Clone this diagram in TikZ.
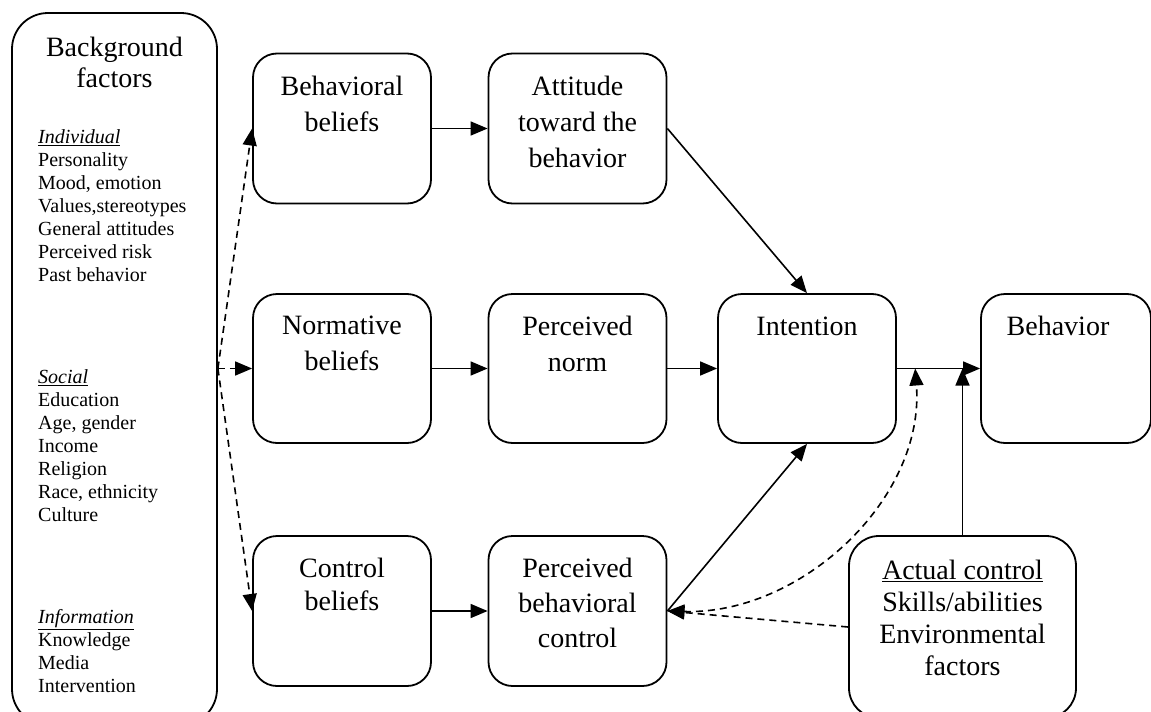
\documentclass[tikz,border=0pt]{standalone}
\usepackage{fontspec}
\setmainfont{Liberation Serif}
\usetikzlibrary{arrows.meta,calc}

\begin{document}
\begin{tikzpicture}[x=1pt,y=-1pt,
  box/.style={draw, line width=1.8pt, rounded corners=24pt,
    minimum width=178pt, minimum height=150pt, inner sep=0pt},
  big/.style={font=\fontsize{28}{36}\selectfont, align=center,
    inner sep=0pt, anchor=north},
  small/.style={font=\fontsize{20}{23}\selectfont, align=left,
    inner sep=0pt, anchor=north west},
  link/.style={line width=1.6pt, -{Triangle[length=17pt,width=14pt]}},
  dlink/.style={link, dash pattern=on 7pt off 5pt},
]
\useasboundingbox (0,0) rectangle (1151,712);

% background factors column
\node[box, minimum width=205pt, minimum height=712pt, rounded corners=36pt]
  (bg) at (114.5,369) {};
\node[big, font=\fontsize{28}{31}\selectfont] (bgtitle)
  at ([yshift=-25pt]bg.north) {Background\\factors};
\node[small] (ind) at (38,129.5) {\underline{\textit{Individual}}\\Personality\\Mood, emotion\\Values,stereotypes\\General attitudes\\Perceived risk\\Past behavior};
\node[small] (soc) at (38,369.5) {\underline{\textit{Social}}\\Education\\Age, gender\\Income\\Religion\\Race, ethnicity\\Culture};
\node[small] (inf) at (38,609.5) {\underline{\textit{Information}}\\Knowledge\\Media\\Intervention};

% belief boxes and their direct outcomes
\node[box] (bb)  at (342,128.5) {};
\node[box] (att) at (577.5,128.5) {};
\node[box, minimum height=149pt] (nb)  at (342,368.5) {};
\node[box, minimum height=149pt] (pn)  at (577.5,368.5) {};
\node[box] (cb)  at (342,611) {};
\node[box] (pbc) at (577.5,611) {};
\node[box, minimum height=149pt] (int) at (807,368.5) {};
\node[box, minimum width=170pt, minimum height=149pt] (beh) at (1066,368.5) {};
\node[box, minimum width=227pt, minimum height=182pt, rounded corners=30pt]
  (ac) at (962.5,627) {};

\node[big] (tbb)  at ([yshift=-23pt]bb.north)  {Behavioral\\beliefs};
\node[big] (tatt) at ([yshift=-23pt]att.north) {Attitude\\toward the\\behavior};
\node[big] (tnb)  at ([yshift=-23pt]nb.north)  {Normative\\beliefs};
\node[big] (tpn)  at ([yshift=-23pt]pn.north)  {Perceived\\norm};
\node[big, font=\fontsize{28}{33}\selectfont] (tcb) at ([yshift=-23pt]cb.north) {Control\\beliefs};
\node[big, font=\fontsize{28}{35}\selectfont] (tpbc) at ([yshift=-23pt]pbc.north) {Perceived\\behavioral\\control};
\node[big] (tint) at ([yshift=-24pt]int.north) {Intention};
\node[big] (tbeh) at ([xshift=-8pt,yshift=-23pt]beh.north) {Behavior};
\node[big, font=\fontsize{28}{32}\selectfont] (tac) at ([yshift=-25pt]ac.north)
  {\underline{Actual control}\\Skills/abilities\\Environmental\\factors};

% background factors feed the three belief types
\coordinate (fan) at (bg.east |- nb.west);
\draw[dlink] (fan) -- (bb.west);
\draw[dlink] (fan) -- (nb.west);
\draw[dlink] (fan) -- (cb.west);

% main causal paths
\draw[link] (bb.east) -- (att.west);
\draw[link] (nb.east) -- (pn.west);
\draw[link] (cb.east) -- (pbc.west);
\draw[link] (att.east) -- (int.north);
\draw[link] (pn.east) -- (int.west);
\draw[link] (pbc.east) -- (int.south);
\draw[link] (int.east) -- (beh.west);
\draw[link] (ac.north) -- (ac.north |- int.east);

% actual control and perceived control
\coordinate (jn) at ($(int.east)!0.22!(beh.west)$);
\draw[dlink, {Triangle[length=17pt,width=14pt]}-{Triangle[length=17pt,width=14pt]}]
  (pbc.east) .. controls (800,615) and (925,500) .. (jn);
\draw[dlink] (ac.west) -- (pbc.east);
\end{tikzpicture}
\end{document}
